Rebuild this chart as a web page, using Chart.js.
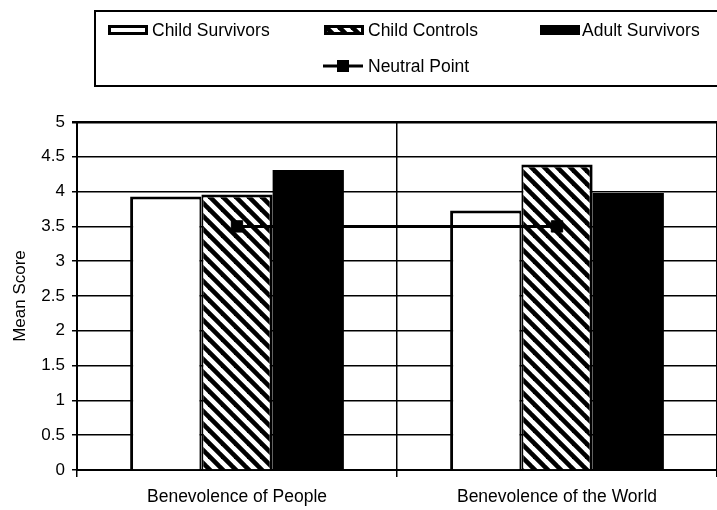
<!DOCTYPE html>
<html><head><meta charset="utf-8">
<script src="https://cdn.jsdelivr.net/npm/chart.js@4.4.0/dist/chart.umd.min.js"></script>
<style>html,body{margin:0;padding:0;background:#fff}#wrap{width:717px;height:510px}</style>
</head><body><div id="wrap"><canvas id="c" width="717" height="510"></canvas></div>
<script>
// ---- data ----
const categories = ['Benevolence of People', 'Benevolence of the World'];
const seriesNames = ['Child Survivors', 'Child Controls', 'Adult Survivors', 'Neutral Point'];
const childSurvivors = [3.93, 3.73];
const childControls = [3.96, 4.39];
const adultSurvivors = [4.31, 3.98];
const neutralPoint = [3.5, 3.5];
const yTickValues = [0, 0.5, 1, 1.5, 2, 2.5, 3, 3.5, 4, 4.5, 5];
const yTickLabels = ['0', '0.5', '1', '1.5', '2', '2.5', '3', '3.5', '4', '4.5', '5'];

const FONT = '"Liberation Sans", Arial, sans-serif';
const canvas = document.getElementById('c');
const ctx0 = canvas.getContext('2d');

function makeHatch() {
  const s = 13;
  const c = document.createElement('canvas'); c.width = s; c.height = s;
  const g = c.getContext('2d');
  g.fillStyle = '#fff'; g.fillRect(0, 0, s, s);
  g.strokeStyle = '#000'; g.lineWidth = 4.6;
  for (let k = -1; k <= 1; k++) {
    g.beginPath(); g.moveTo(-2, k * s - 2); g.lineTo(s + 2, s + k * s + 2); g.stroke();
  }
  return ctx0.createPattern(c, 'repeat');
}
const hatch = makeHatch();

const boxLegend = {
  id: 'boxLegend',
  afterDraw(chart) {
    const ctx = chart.ctx;
    const ds = chart.data.datasets;
    ctx.save();
    ctx.strokeStyle = '#000'; ctx.lineWidth = 2;
    ctx.strokeRect(95, 11, 640, 75);
    ctx.font = '17.5px ' + FONT;
    ctx.fillStyle = '#000'; ctx.textBaseline = 'middle'; ctx.textAlign = 'left';
    const items = [
      {ds: ds[1], sx: 108, tx: 152, y: 30},
      {ds: ds[2], sx: 324, tx: 368, y: 30},
      {ds: ds[3], sx: 540, tx: 582, y: 30}
    ];
    items.forEach(it => {
      ctx.fillStyle = it.ds.backgroundColor;
      ctx.fillRect(it.sx, it.y - 5, 40, 10);
      ctx.lineWidth = 3; ctx.strokeStyle = '#000';
      ctx.strokeRect(it.sx + 1.5, it.y - 5 + 1.5, 37, 7);
      ctx.fillStyle = '#000';
      ctx.fillText(it.ds.label, it.tx, it.y + 1);
    });
    // neutral point
    const ly = 66;
    ctx.lineWidth = 3; ctx.strokeStyle = '#000';
    ctx.beginPath(); ctx.moveTo(323, ly); ctx.lineTo(363, ly); ctx.stroke();
    ctx.fillStyle = '#000'; ctx.fillRect(337, ly - 6, 12, 12);
    ctx.fillText(ds[0].label, 368, ly + 1);
    ctx.restore();
  }
};

const font = {family: FONT, size: 17};

new Chart(canvas, {
  type: 'bar',
  data: {
    labels: categories,
    datasets: [
      {type: 'line', label: seriesNames[3], data: neutralPoint, borderColor: '#000', borderWidth: 3,
       pointStyle: 'rect', pointRadius: 8, pointBackgroundColor: '#000', pointBorderColor: '#000',
       pointBorderWidth: 1, fill: false, tension: 0, order: 0},
      {label: seriesNames[0], data: childSurvivors, backgroundColor: '#fff', borderColor: '#000',
       borderWidth: {top: 3, left: 3, right: 2, bottom: 0}, order: 1},
      {label: seriesNames[1], data: childControls, backgroundColor: hatch, borderColor: '#000',
       borderWidth: {top: 3, left: 2, right: 3, bottom: 0}, order: 1},
      {label: seriesNames[2], data: adultSurvivors, backgroundColor: '#000', borderColor: '#000',
       borderWidth: 0, order: 1}
    ]
  },
  options: {
    responsive: false,
    devicePixelRatio: 1,
    animation: false,
    events: [],
    layout: {autoPadding: false, padding: {top: 122, left: 0, right: -1, bottom: 0}},
    datasets: {bar: {categoryPercentage: 0.668, barPercentage: 1}},
    plugins: {legend: {display: false}, tooltip: {enabled: false}},
    scales: {
      x: {
        offset: true,
        grid: {color: '#000', lineWidth: 1.5, offset: true, tickLength: 7},
        border: {color: '#000', width: 2},
        ticks: {color: '#000', font: {family: FONT, size: 17.5}, padding: 10, maxRotation: 0},
        afterFit(s) { s.height = 40; }
      },
      y: {
        min: 0, max: 5,
        afterBuildTicks(s) { s.ticks = yTickValues.map(v => ({value: v})); },
        ticks: {color: '#000', font: font, padding: 7, callback: (v, i) => yTickLabels[i]},
        grid: {color: '#000', lineWidth: c => (c.tick && c.tick.value === 5) ? 2.5 : 1.5, tickLength: 5},
        border: {color: '#000', width: 2},
        title: {display: true, text: 'Mean Score', color: '#000', font: {family: FONT, size: 17}, padding: {top: 10, bottom: 0}},
        afterFit(s) { s.width = 77; }
      }
    }
  },
  plugins: [boxLegend]
});
</script></body></html>
